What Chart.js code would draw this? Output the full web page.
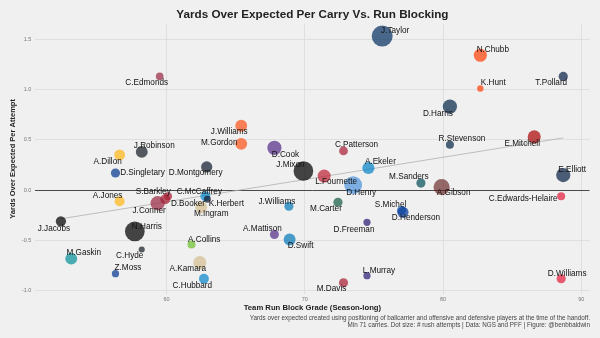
<!DOCTYPE html>
<html lang="en">
<head>
<meta charset="UTF-8">
<title>Yards Over Expected Per Carry Vs. Run Blocking</title>
<style>
    body { margin: 0; background: #f0f0f0; }
    canvas { display: block; }
</style>
<script src="https://cdn.jsdelivr.net/npm/chart.js@4.4.1/dist/chart.umd.min.js"></script>
</head>
<body>
<canvas id="yoeChart" width="600" height="338"></canvas>
<script>
    // Data
    const players = [
        'C.Edmonds', 'J.Taylor', 'N.Chubb', 'K.Hunt', 'T.Pollard', 'D.Harris', 'J.Williams', 'M.Gordon',
        'D.Cook', 'A.Dillon', 'J.Robinson', 'D.Singletary', 'D.Montgomery', 'J.Mixon', 'C.Patterson',
        'R.Stevenson', 'E.Mitchell', 'A.Ekeler', 'L.Fournette', 'D.Henry', 'M.Sanders', 'A.Gibson',
        'E.Elliott', 'C.Edwards-Helaire', 'A.Jones', 'S.Barkley', 'D.Booker', 'J.Conner', 'C.McCaffrey',
        'K.Herbert', 'M.Ingram', 'J.Williams', 'M.Carter', 'S.Michel', 'D.Henderson', 'J.Jacobs',
        'N.Harris', 'A.Collins', 'A.Mattison', 'D.Swift', 'D.Freeman', 'M.Gaskin', 'C.Hyde', 'Z.Moss',
        'A.Kamara', 'C.Hubbard', 'L.Murray', 'M.Davis', 'D.Williams'
    ];
    const teams = [
        'ARI', 'IND', 'CLE', 'CLE', 'DAL', 'NE', 'DEN', 'DEN',
        'MIN', 'GB', 'JAX', 'BUF', 'CHI', 'CIN', 'ATL',
        'NE', 'SF', 'LAC', 'TB', 'TEN', 'PHI', 'WAS',
        'DAL', 'KC', 'GB', 'NYG', 'NYG', 'ARI', 'CAR',
        'CHI', 'NO', 'DET', 'NYJ', 'LA', 'LA2', 'LV',
        'PIT', 'SEA', 'MIN', 'DET', 'BAL', 'MIA', 'JAX', 'BUF',
        'NO', 'CAR', 'BAL', 'ATL', 'KC'
    ];
    const blockGrade = [
        59.5, 75.6, 82.7, 82.7, 88.7, 80.5, 65.4, 65.4,
        67.8, 56.6, 58.2, 56.3, 62.9, 69.9, 72.8,
        80.5, 86.6, 74.6, 71.4, 73.5, 78.4, 79.9,
        88.7, 88.55, 56.6, 59.9, 60.1, 59.35, 62.8,
        62.95, 62.5, 68.85, 72.4, 77.0, 77.1, 52.35,
        57.7, 61.8, 67.8, 68.9, 74.5, 53.1, 58.2, 56.3,
        62.4, 62.7, 74.5, 72.8, 88.55
    ];
    const yoePerAttempt = [
        1.13, 1.53, 1.34, 1.01, 1.13, 0.83, 0.64, 0.46,
        0.42, 0.35, 0.38, 0.17, 0.23, 0.19, 0.39,
        0.45, 0.53, 0.22, 0.14, 0.05, 0.07, 0.03,
        0.15, -0.06, -0.11, -0.09, -0.06, -0.13, -0.06,
        -0.09, -0.17, -0.16, -0.12, -0.20, -0.22, -0.31,
        -0.41, -0.54, -0.44, -0.49, -0.32, -0.68, -0.59, -0.83,
        -0.72, -0.88, -0.85, -0.92, -0.88
    ];
    const rushAttempts = [
        90, 330, 170, 75, 110, 190, 150, 150,
        190, 135, 150, 110, 140, 300, 105,
        95, 170, 155, 170, 260, 110, 225,
        190, 95, 122, 120, 95, 190, 120,
        82, 150, 108, 110, 110, 140, 125,
        300, 95, 108, 150, 85, 150, 72, 85,
        170, 120, 85, 110, 110
    ];
    const xTicks = [60, 70, 80, 90];
    const yTicks = [-1.0, -0.5, 0.0, 0.5, 1.0, 1.5];

    // styling
    const teamColors = {
        ARI: 'rgba(151,35,63,0.7)', IND: 'rgba(0,44,95,0.7)', CLE: 'rgba(255,60,0,0.7)',
        DAL: 'rgba(4,30,66,0.7)', NE: 'rgba(0,34,68,0.7)', DEN: 'rgba(251,79,20,0.7)',
        MIN: 'rgba(79,38,131,0.7)', GB: 'rgba(255,182,18,0.7)', JAX: 'rgba(16,24,32,0.7)',
        BUF: 'rgba(0,51,141,0.7)', CHI: 'rgba(11,22,42,0.7)', CIN: 'rgba(0,0,0,0.72)',
        ATL: 'rgba(167,25,48,0.7)', SF: 'rgba(170,0,0,0.7)', LAC: 'rgba(0,128,198,0.7)',
        TB: 'rgba(190,30,50,0.7)', TEN: 'rgba(75,146,219,0.7)', PHI: 'rgba(0,76,84,0.7)',
        WAS: 'rgba(100,30,30,0.65)', KC: 'rgba(227,24,55,0.7)', NYG: 'rgba(167,25,48,0.7)',
        CAR: 'rgba(0,133,202,0.7)', NO: 'rgba(211,188,141,0.7)', DET: 'rgba(0,118,182,0.7)',
        NYJ: 'rgba(18,87,64,0.7)', LA: 'rgba(0,80,180,0.6)', LA2: 'rgba(0,53,148,0.7)',
        LV: 'rgba(0,0,0,0.72)', PIT: 'rgba(0,0,0,0.72)', SEA: 'rgba(105,190,40,0.7)',
        BAL: 'rgba(36,23,115,0.7)', MIA: 'rgba(0,142,151,0.7)'
    };
    // label offsets from the dot, in px (like ggrepel put them)
    const labelNudge = [
        [-13, 6], [13, -5], [12.5, -6], [13, -6], [-12, 6], [-12, 7], [-12, 6], [-22, -1],
        [11, 7], [-12, 7], [12.5, -6], [27, 0], [-11, 6], [-13, -6], [13, -6],
        [12, -6], [-12, 7], [12, -6], [12, 6], [8, 7.5], [-12, -6], [12, 6],
        [9, -5], [-38, 3], [-12, -5], [-12, -7.5], [20, 8], [-8.5, 7.6], [-6, -4.5],
        [19, 5], [10, 6.6], [-12, -5], [-12, 7], [-11, -6], [13, 5.7], [-7, 7],
        [12, -5], [12.7, -5], [-12, -5.6], [11, 6], [-13, 7], [12.5, -5.5], [-12, 6], [12.5, -5.5],
        [-12, 6.6], [-11.6, 6.7], [12, -5], [-12, 6], [6, -5]
    ];

    const FONT = '"Liberation Sans", Arial, sans-serif';
    Chart.defaults.font.family = FONT;

    // dot size: radius linear in sqrt(attempts)
    const sMin = Math.sqrt(71), sMax = Math.sqrt(330);
    function dotRadius(att) {
        return 3 + (Math.sqrt(att) - sMin) / (sMax - sMin) * 7.5;
    }

    // least squares fit for the trend line, weighted by carries
    function fitLine(xs, ys, ws) {
        let sw = 0, sx = 0, sy = 0;
        for (let i = 0; i < xs.length; i++) {
            sw += ws[i]; sx += ws[i] * xs[i]; sy += ws[i] * ys[i];
        }
        const mx = sx / sw, my = sy / sw;
        let sxy = 0, sxx = 0;
        for (let i = 0; i < xs.length; i++) {
            sxy += ws[i] * (xs[i] - mx) * (ys[i] - my);
            sxx += ws[i] * (xs[i] - mx) * (xs[i] - mx);
        }
        const slope = sxy / sxx;
        return { slope, intercept: my - slope * mx };
    }
    const fit = fitLine(blockGrade, yoePerAttempt, rushAttempts);
    const xLo = Math.min(...blockGrade), xHi = Math.max(...blockGrade);
    const trend = [xLo, xHi].map(x => ({ x, y: fit.intercept + fit.slope * x }));

    const points = blockGrade.map((x, i) => ({ x, y: yoePerAttempt[i] }));

    const pointLabels = {
        id: 'pointLabels',
        afterDatasetsDraw(chart) {
            const ctx = chart.ctx;
            const meta = chart.getDatasetMeta(0);
            ctx.save();
            ctx.font = '8.2px ' + FONT;
            ctx.fillStyle = '#111';
            ctx.textAlign = 'center';
            ctx.textBaseline = 'middle';
            meta.data.forEach((pt, i) => {
                const [dx, dy] = labelNudge[i];
                ctx.fillText(players[i], pt.x + dx, pt.y + dy);
            });
            ctx.restore();
        }
    };

    new Chart(document.getElementById('yoeChart').getContext('2d'), {
        type: 'scatter',
        data: {
            datasets: [{
                label: 'Players',
                data: points,
                pointRadius: rushAttempts.map(dotRadius),
                backgroundColor: teams.map(t => teamColors[t]),
                borderWidth: 0
            }, {
                type: 'line',
                label: 'Trend',
                data: trend,
                showLine: true,
                pointRadius: 0,
                borderColor: '#b0b0b0',
                borderWidth: 0.8,
                fill: false
            }]
        },
        options: {
            responsive: false,
            animation: false,
            events: [],
            layout: { padding: { left: 4, right: 10, top: 0, bottom: 0 } },
            plugins: {
                legend: { display: false },
                tooltip: { enabled: false },
                title: {
                    display: true,
                    text: 'Yards Over Expected Per Carry Vs. Run Blocking',
                    fullSize: false,
                    color: '#222',
                    font: { size: 11.7, weight: 'bold', lineHeight: 1.2 },
                    padding: { top: 7.3, bottom: 2.7 }
                },
                subtitle: {
                    display: true,
                    position: 'bottom',
                    align: 'end',
                    text: [
                        'Yards over expected created using positioning of ballcarrier and offensive and defensive players at the time of the handoff.',
                        'Min 71 carries. Dot size: # rush attempts | Data: NGS and PFF | Figure: @benbbaldwin'
                    ],
                    color: '#444',
                    font: { size: 6.3, lineHeight: 1.1 },
                    padding: { top: 3, bottom: 9 }
                }
            },
            scales: {
                x: {
                    type: 'linear',
                    min: 50.5,
                    max: 90.6,
                    afterBuildTicks: s => { s.ticks = xTicks.map(v => ({ value: v })); },
                    border: { display: false },
                    grid: { color: '#dadada', lineWidth: 0.8, drawTicks: false },
                    ticks: { color: '#777', font: { size: 5.5 }, padding: 2 },
                    title: {
                        display: true,
                        text: 'Team Run Block Grade (Season-long)',
                        color: '#222',
                        font: { size: 7.7, weight: 'bold', lineHeight: 1 },
                        padding: { top: 0, bottom: 0 }
                    }
                },
                y: {
                    type: 'linear',
                    min: -1.03,
                    max: 1.65,
                    afterBuildTicks: s => { s.ticks = yTicks.map(v => ({ value: v })); },
                    border: { display: false },
                    grid: {
                        color: c => (c.tick && c.tick.value === 0 ? '#4a4a4a' : '#dadada'),
                        lineWidth: c => (c.tick && c.tick.value === 0 ? 1 : 0.8),
                        drawTicks: false
                    },
                    ticks: {
                        color: '#777',
                        font: { size: 5.5 },
                        padding: 4,
                        callback: v => v.toFixed(1)
                    },
                    title: {
                        display: true,
                        text: 'Yards Over Expected Per Attempt',
                        color: '#222',
                        font: { size: 7.5, weight: 'bold', lineHeight: 1 },
                        padding: { top: 4.75, bottom: 1.6 }
                    }
                }
            }
        },
        plugins: [pointLabels]
    });
</script>
</body>
</html>
